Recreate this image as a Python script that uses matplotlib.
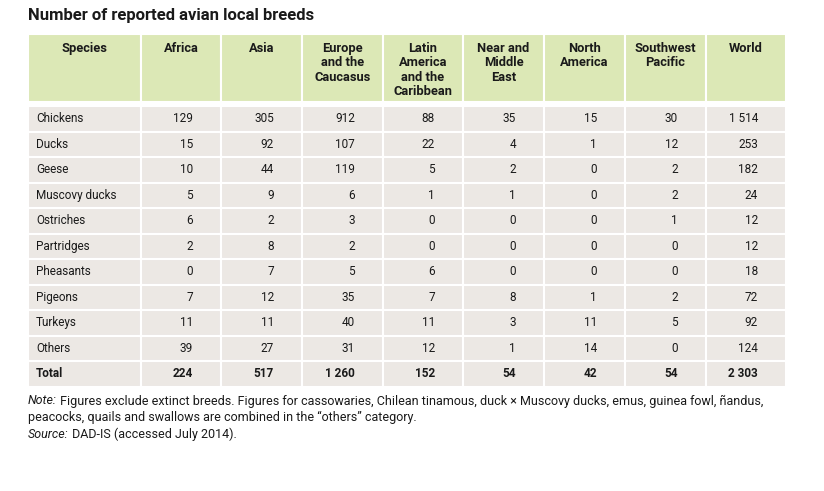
import matplotlib.pyplot as plt
from matplotlib.patches import Rectangle

# Datos de la tabla
title = 'Number of reported avian local breeds'
headers = ['Species', 'Africa', 'Asia', 'Europe\nand the\nCaucasus',
           'Latin\nAmerica\nand the\nCaribbean', 'Near and\nMiddle\nEast',
           'North\nAmerica', 'Southwest\nPacific', 'World']
species = ['Chickens', 'Ducks', 'Geese', 'Muscovy ducks', 'Ostriches',
           'Partridges', 'Pheasants', 'Pigeons', 'Turkeys', 'Others', 'Total']
africa = ['129', '15', '10', '5', '6', '2', '0', '7', '11', '39', '224']
asia = ['305', '92', '44', '9', '2', '8', '7', '12', '11', '27', '517']
europe = ['912', '107', '119', '6', '3', '2', '5', '35', '40', '31', '1 260']
latin = ['88', '22', '5', '1', '0', '0', '6', '7', '11', '12', '152']
near_east = ['35', '4', '2', '1', '0', '0', '0', '8', '3', '1', '54']
north_am = ['15', '1', '0', '0', '0', '0', '0', '1', '11', '14', '42']
sw_pacific = ['30', '12', '2', '2', '1', '0', '0', '2', '5', '0', '54']
world = ['1 514', '253', '182', '24', '12', '12', '18', '72', '92', '124', '2 303']

columns = [africa, asia, europe, latin, near_east, north_am, sw_pacific, world]

# Geometria (pixeles)
col_edges = [28, 141, 221, 302, 383, 463, 544, 625, 706, 786]
head_top, head_bot = 34, 102
row_top, row_h = 106, 25.5
green = '#dce8b6'
grey = '#ece8e4'
fam = ['Roboto', 'DejaVu Sans']
fs = 8.5
txt = '#1a1a1a'

fig = plt.figure(figsize=(8.24, 4.91), dpi=100)
ax = fig.add_axes([0, 0, 1, 1])
ax.set_xlim(0, 824)
ax.set_ylim(491, 0)
ax.axis('off')

ax.text(28, 15, title, fontsize=12, fontweight='bold', family=fam,
        va='center', ha='left', color=txt)

# Encabezado
for j, h in enumerate(headers):
    x0, x1 = col_edges[j], col_edges[j + 1]
    ax.add_patch(Rectangle((x0, head_top), x1 - x0, head_bot - head_top,
                           facecolor=green, edgecolor='white', lw=1.5))
    ax.text((x0 + x1) / 2, 41.5, h, fontsize=9.3, fontweight='bold', family=fam,
            ha='center', va='top', linespacing=1.15, color=txt)

# Filas
for i, sp in enumerate(species):
    y0 = row_top + i * row_h
    yc = y0 + row_h / 2
    bold = 'bold' if sp == 'Total' else 'normal'
    for j in range(len(headers)):
        x0, x1 = col_edges[j], col_edges[j + 1]
        ax.add_patch(Rectangle((x0, y0), x1 - x0, row_h,
                               facecolor=grey, edgecolor='white', lw=1.5))
    ax.text(36, yc, sp, fontsize=fs, fontweight=bold, family=fam,
            ha='left', va='center', color=txt)
    for j, col in enumerate(columns):
        x1 = col_edges[j + 2]
        ax.text(x1 - 28, yc, col[i], fontsize=fs, fontweight=bold, family=fam,
                ha='right', va='center', color=txt)

# Notas
nfs = 9
t1 = ax.text(28, 401, 'Note:', fontsize=nfs, style='italic', family=fam,
             va='center', ha='left', color=txt)
ax.annotate(' Figures exclude extinct breeds. Figures for cassowaries, Chilean tinamous, '
            'duck \u00d7 Muscovy ducks, emus, guinea fowl, \u00f1andus,',
            xy=(1, 0.5), xycoords=t1, va='center', ha='left', fontsize=nfs,
            family=fam, color=txt)
ax.text(28, 417, 'peacocks, quails and swallows are combined in the \u201cothers\u201d category.',
        fontsize=nfs, family=fam, va='center', ha='left', color=txt)
t2 = ax.text(28, 434, 'Source:', fontsize=nfs, style='italic', family=fam,
             va='center', ha='left', color=txt)
ax.annotate(' DAD-IS (accessed July 2014).', xy=(1, 0.5), xycoords=t2,
            va='center', ha='left', fontsize=nfs, family=fam, color=txt)

fig.savefig('out.png', dpi=100)
